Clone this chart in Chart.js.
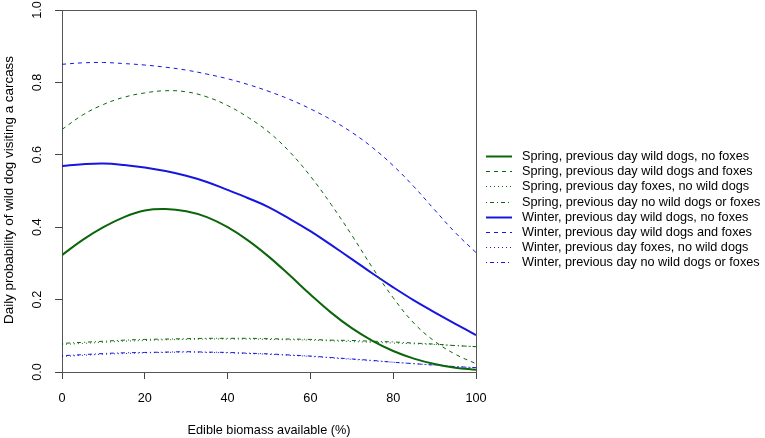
<!DOCTYPE html>
<html>
<head>
<meta charset="utf-8">
<script src="https://cdn.jsdelivr.net/npm/chart.js@4.4.1/dist/chart.umd.min.js"></script>
<style>
  html, body { margin: 0; padding: 0; background: #ffffff; }
  #wrap { width: 765px; height: 438px; position: relative; }
</style>
</head>
<body>
<div id="wrap"><canvas id="c" width="765" height="438"></canvas></div>
<script>
// ---- data ----
const biomass = [0, 5, 10, 15, 20, 25, 30, 35, 40, 45, 50, 55, 60, 65, 70, 75, 80, 85, 90, 95, 100];

const springDogsNoFoxes  = [0.323, 0.365, 0.400, 0.428, 0.446, 0.450, 0.444, 0.428, 0.400, 0.363, 0.318, 0.267, 0.214, 0.164, 0.121, 0.086, 0.058, 0.037, 0.022, 0.012, 0.006];
const springDogsAndFoxes = [0.670, 0.710, 0.739, 0.759, 0.771, 0.777, 0.774, 0.760, 0.736, 0.703, 0.662, 0.608, 0.541, 0.463, 0.378, 0.288, 0.205, 0.135, 0.085, 0.049, 0.023];
const springFoxesNoDogs  = [0.076, 0.079, 0.082, 0.085, 0.087, 0.089, 0.090, 0.091, 0.091, 0.091, 0.090, 0.089, 0.088, 0.086, 0.084, 0.082, 0.080, 0.078, 0.076, 0.073, 0.070];
const springNeither      = [0.079, 0.082, 0.085, 0.088, 0.090, 0.091, 0.092, 0.093, 0.093, 0.093, 0.092, 0.091, 0.090, 0.088, 0.087, 0.085, 0.083, 0.080, 0.077, 0.073, 0.070];
const winterDogsNoFoxes  = [0.569, 0.574, 0.576, 0.572, 0.565, 0.555, 0.542, 0.525, 0.503, 0.480, 0.455, 0.423, 0.389, 0.351, 0.312, 0.272, 0.234, 0.198, 0.165, 0.133, 0.102];
const winterDogsAndFoxes = [0.850, 0.854, 0.855, 0.852, 0.848, 0.842, 0.834, 0.823, 0.810, 0.794, 0.775, 0.753, 0.727, 0.697, 0.662, 0.620, 0.570, 0.512, 0.448, 0.385, 0.330];
const winterFoxesNoDogs  = [0.043, 0.046, 0.049, 0.051, 0.053, 0.054, 0.055, 0.054, 0.053, 0.051, 0.049, 0.046, 0.043, 0.039, 0.035, 0.031, 0.027, 0.023, 0.019, 0.015, 0.012];
const winterNeither      = [0.045, 0.048, 0.051, 0.053, 0.054, 0.055, 0.056, 0.055, 0.054, 0.052, 0.050, 0.047, 0.044, 0.040, 0.036, 0.032, 0.027, 0.023, 0.019, 0.015, 0.012];

const seriesLabels = [
  'Spring, previous day wild dogs, no foxes',
  'Spring, previous day wild dogs and foxes',
  'Spring, previous day foxes, no wild dogs',
  'Spring, previous day no wild dogs or foxes',
  'Winter, previous day wild dogs, no foxes',
  'Winter, previous day wild dogs and foxes',
  'Winter, previous day foxes, no wild dogs',
  'Winter, previous day no wild dogs or foxes'
];
const seriesValues = [
  springDogsNoFoxes, springDogsAndFoxes, springFoxesNoDogs, springNeither,
  winterDogsNoFoxes, winterDogsAndFoxes, winterFoxesNoDogs, winterNeither
];

const xTickLabels = ['0', '20', '40', '60', '80', '100'];
const yTickLabels = ['0.0', '0.2', '0.4', '0.6', '0.8', '1.0'];
const xTitle = 'Edible biomass available (%)';
const yTitle = 'Daily probability of wild dog visiting a carcass';

// ---- styles ----
const GREEN = '#0b650b';
const BLUE = '#1616e0';
const styles = [
  { color: GREEN, width: 2, dash: [] },
  { color: GREEN, width: 1, dash: [4, 4] },
  { color: GREEN, width: 1, dash: [1, 3] },
  { color: GREEN, width: 1, dash: [1, 3, 4, 3] },
  { color: BLUE,  width: 2, dash: [] },
  { color: BLUE,  width: 1, dash: [4, 4] },
  { color: BLUE,  width: 1, dash: [1, 3] },
  { color: BLUE,  width: 1, dash: [1, 3, 4, 3] }
];

const FONT = '"Liberation Sans", Arial, sans-serif';
const FS = 12.7;

const datasets = seriesValues.map((vals, i) => ({
  label: seriesLabels[i],
  data: biomass.map((x, j) => ({ x: x, y: vals[j] })),
  borderColor: styles[i].color,
  borderWidth: styles[i].width,
  borderDash: styles[i].dash,
  pointRadius: 0,
  fill: false,
  tension: 0.4
}));

const decorPlugin = {
  id: 'decor',
  afterDraw(chart) {
    const ctx = chart.ctx;
    const a = chart.chartArea;
    const ys = chart.scales.y;
    const xs = chart.scales.x;
    ctx.save();
    // box top and right
    ctx.strokeStyle = '#555';
    ctx.lineWidth = 1;
    ctx.setLineDash([]);
    ctx.beginPath();
    ctx.moveTo(a.left, a.top + 0.5);
    ctx.lineTo(a.right + 0.5, a.top + 0.5);
    ctx.lineTo(a.right + 0.5, a.bottom);
    ctx.stroke();

    // rotated y tick labels
    ctx.fillStyle = '#000';
    ctx.font = FS + 'px ' + FONT;
    ctx.textAlign = 'center';
    ctx.textBaseline = 'middle';
    yTickLabels.forEach(lbl => {
      const py = ys.getPixelForValue(parseFloat(lbl));
      ctx.save();
      ctx.translate(37, py);
      ctx.rotate(-Math.PI / 2);
      ctx.fillText(lbl, 0, 0);
      ctx.restore();
    });

    // y title
    ctx.save();
    ctx.font = '13.4px ' + FONT;
    ctx.translate(9, 190);
    ctx.rotate(-Math.PI / 2);
    ctx.fillText(yTitle, 0, 0);
    ctx.restore();

    // x title
    ctx.fillText(xTitle, (xs.left + xs.right) / 2, 430);

    // legend
    const lx0 = 486, lx1 = 512, tx = 522, y0 = 156, dy = 15.2;
    seriesLabels.forEach((lbl, i) => {
      const y = Math.round(y0 + i * dy) + 0.5;
      ctx.strokeStyle = styles[i].color;
      ctx.lineWidth = styles[i].width;
      ctx.setLineDash(styles[i].dash);
      ctx.beginPath();
      ctx.moveTo(lx0, y);
      ctx.lineTo(lx1, y);
      ctx.stroke();
      ctx.setLineDash([]);
      ctx.fillStyle = '#000';
      ctx.textAlign = 'left';
      ctx.textBaseline = 'middle';
      ctx.fillText(lbl, tx, y);
    });
    ctx.restore();
  }
};

new Chart(document.getElementById('c'), {
  type: 'line',
  data: { datasets: datasets },
  options: {
    responsive: false,
    animation: false,
    events: [],
    layout: { padding: { left: 0, right: 289, top: 10, bottom: 0 } },
    plugins: { legend: { display: false }, tooltip: { enabled: false } },
    scales: {
      x: {
        type: 'linear',
        min: 0, max: 100,
        afterBuildTicks: s => { s.ticks = xTickLabels.map(v => ({ value: parseFloat(v) })); },
        afterFit: s => { s.height = 66; },
        grid: { display: true, drawOnChartArea: false, drawTicks: true, tickLength: 7, color: '#444' },
        border: { display: true, color: '#555', width: 1 },
        ticks: { color: '#000', font: { family: FONT, size: FS }, padding: 12, maxRotation: 0,
                 callback: v => String(v) }
      },
      y: {
        type: 'linear',
        min: 0, max: 1,
        afterBuildTicks: s => { s.ticks = yTickLabels.map(v => ({ value: parseFloat(v) })); },
        afterFit: s => { s.width = 62; },
        grid: { display: true, drawOnChartArea: false, drawTicks: true, tickLength: 7, color: '#444' },
        border: { display: true, color: '#555', width: 1 },
        ticks: { display: false }
      }
    }
  },
  plugins: [decorPlugin]
});
</script>
</body>
</html>
